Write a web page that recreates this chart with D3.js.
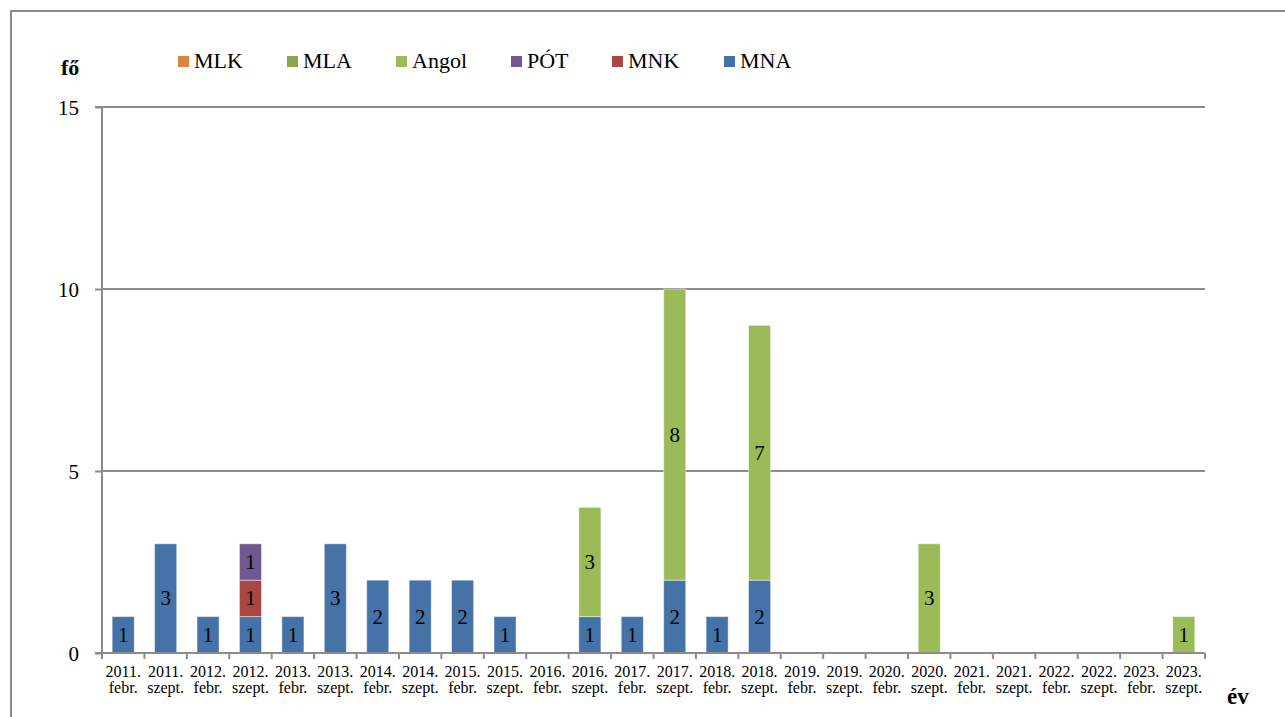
<!DOCTYPE html>
<html>
<head>
<meta charset="utf-8">
<script src="https://cdn.jsdelivr.net/npm/d3@7"></script>
<style>
  html, body { margin: 0; padding: 0; background: #fff; }
</style>
</head>
<body>
<svg id="chart" width="1285" height="717"></svg>
<script>
const categories = [
  "2011. febr.", "2011. szept.", "2012. febr.", "2012. szept.", "2013. febr.", "2013. szept.",
  "2014. febr.", "2014. szept.", "2015. febr.", "2015. szept.", "2016. febr.", "2016. szept.",
  "2017. febr.", "2017. szept.", "2018. febr.", "2018. szept.", "2019. febr.", "2019. szept.",
  "2020. febr.", "2020. szept.", "2021. febr.", "2021. szept.", "2022. febr.", "2022. szept.",
  "2023. febr.", "2023. szept."
];
const MNA   = [1,3,1,1,1,3,2,2,2,1,0,1,1,2,1,2,0,0,0,0,0,0,0,0,0,0];
const MNK   = [0,0,0,1,0,0,0,0,0,0,0,0,0,0,0,0,0,0,0,0,0,0,0,0,0,0];
const POT   = [0,0,0,1,0,0,0,0,0,0,0,0,0,0,0,0,0,0,0,0,0,0,0,0,0,0];
const Angol = [0,0,0,0,0,0,0,0,0,0,0,3,0,8,0,7,0,0,0,3,0,0,0,0,0,1];
const MLA   = [0,0,0,0,0,0,0,0,0,0,0,0,0,0,0,0,0,0,0,0,0,0,0,0,0,0];
const MLK   = [0,0,0,0,0,0,0,0,0,0,0,0,0,0,0,0,0,0,0,0,0,0,0,0,0,0];
const yTicks = [0, 5, 10, 15];

// stacking order: bottom to top
const series = [
  { key: "MNA",   name: "MNA",   values: MNA,   color: "#4572A7" },
  { key: "MNK",   name: "MNK",   values: MNK,   color: "#AA4643" },
  { key: "POT",   name: "PÓT",   values: POT,   color: "#71588F" },
  { key: "Angol", name: "Angol", values: Angol, color: "#9BBB59" },
  { key: "MLA",   name: "MLA",   values: MLA,   color: "#89A54E" },
  { key: "MLK",   name: "MLK",   values: MLK,   color: "#DB843D" }
];
const legendOrder = ["MLK", "MLA", "Angol", "POT", "MNK", "MNA"];
const legendX = [178, 287, 396, 511, 612, 724];

const FONT = "'Liberation Serif', 'Times New Roman', Tinos, 'DejaVu Serif', serif";
const svg = d3.select("#chart").style("font-family", FONT);
const gray = "#8c8c8c";

// outer frame (only top and left visible)
svg.append("rect").attr("x", 11).attr("y", 11).attr("width", 1300).attr("height", 740)
  .attr("fill", "none").attr("stroke", gray).attr("stroke-width", 2);

const x0 = 102, x1 = 1205, yBottom = 653, yTop = 107;
const x = d3.scaleBand().domain(categories).range([x0, x1]).paddingInner(0.48).paddingOuter(0.24);
const y = d3.scaleLinear().domain([0, 15]).range([yBottom, yTop]);

// gridlines
svg.append("g").selectAll("line").data(yTicks.filter(d => d > 0)).join("line")
  .attr("x1", x0).attr("x2", x1).attr("y1", d => y(d)).attr("y2", d => y(d))
  .attr("stroke", gray).attr("stroke-width", 2);

// stacked data
const table = categories.map((c, i) => {
  const o = { cat: c };
  series.forEach(s => o[s.key] = s.values[i]);
  return o;
});
const stack = d3.stack().keys(series.map(s => s.key))(table);
const colorOf = Object.fromEntries(series.map(s => [s.key, s.color]));

const bars = svg.append("g");
stack.forEach(layer => {
  const g = bars.append("g").attr("fill", colorOf[layer.key]);
  g.selectAll("rect").data(layer.filter(d => d[1] - d[0] > 0)).join("rect")
    .attr("x", d => x(d.data.cat))
    .attr("width", x.bandwidth())
    .attr("y", d => y(d[1]))
    .attr("height", d => y(d[0]) - y(d[1]))
    .attr("stroke", "rgba(255,255,255,0.45)").attr("stroke-width", 1);
  g.selectAll("text").data(layer.filter(d => d[1] - d[0] > 0)).join("text")
    .attr("x", d => x(d.data.cat) + x.bandwidth() / 2)
    .attr("y", d => (y(d[0]) + y(d[1])) / 2 + 7)
    .attr("text-anchor", "middle")
    .attr("fill", "#000")
    .style("font-family", FONT)
    .style("font-size", "21px")
    .text(d => d[1] - d[0]);
});

// y axis
const yAxis = d3.axisLeft(y).tickValues(yTicks).tickSize(7).tickPadding(16);
const gy = svg.append("g").attr("transform", `translate(${x0},0)`).call(yAxis)
  .attr("font-family", null).attr("font-size", null);
gy.select(".domain").attr("stroke", gray).attr("stroke-width", 2).attr("d", `M-7,${yTop}H0V${yBottom}`);
gy.selectAll(".tick line").attr("stroke", gray).attr("stroke-width", 2);
gy.selectAll(".tick text").style("font-size", "21px").style("font-family", FONT).attr("fill", "#000").attr("dy", "0.34em");

// x axis line
svg.append("line").attr("x1", x0 - 7).attr("x2", x1).attr("y1", yBottom).attr("y2", yBottom)
  .attr("stroke", gray).attr("stroke-width", 2);
// boundary ticks
const step = x.step();
const bounds = categories.map(c => x(c) - (step - x.bandwidth()) / 2).concat([x1]);
svg.append("g").selectAll("line").data(bounds).join("line")
  .attr("x1", d => d).attr("x2", d => d).attr("y1", yBottom).attr("y2", yBottom + 6)
  .attr("stroke", gray).attr("stroke-width", 2);
// category labels (two lines)
const lab = svg.append("g").selectAll("text").data(categories).join("text")
  .attr("x", d => x(d) + x.bandwidth() / 2)
  .attr("y", 677)
  .attr("text-anchor", "middle")
  .style("font-family", FONT)
  .style("font-size", "16px");
lab.append("tspan").attr("x", d => x(d) + x.bandwidth() / 2).text(d => d.split(" ")[0]);
lab.append("tspan").attr("x", d => x(d) + x.bandwidth() / 2).attr("dy", 16).text(d => d.split(" ")[1]);

// axis titles
svg.append("text").attr("x", 61).attr("y", 75).style("font-family", FONT).style("font-size", "22px").style("font-weight", "bold").text("fő");
svg.append("text").attr("x", 1227).attr("y", 704).style("font-family", FONT).style("font-size", "23px").style("font-weight", "bold").text("év");

// legend
const leg = svg.append("g");
legendOrder.forEach((k, i) => {
  const s = series.find(d => d.key === k);
  leg.append("rect").attr("x", legendX[i]).attr("y", 56).attr("width", 11).attr("height", 11).attr("fill", s.color);
  leg.append("text").attr("x", legendX[i] + 16).attr("y", 68).style("font-family", FONT).style("font-size", "22px").text(s.name);
});
</script>
</body>
</html>
